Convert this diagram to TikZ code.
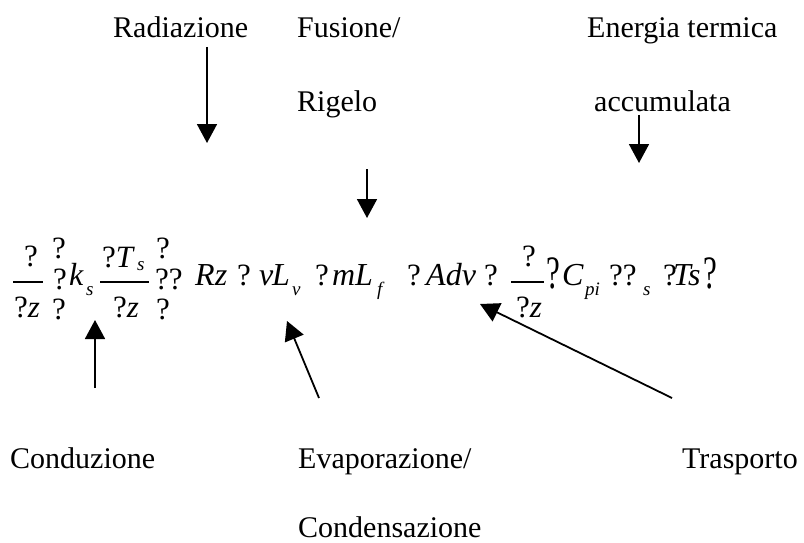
\documentclass[tikz,border=0pt]{standalone}
\usepackage{fontspec}
\setmainfont{Liberation Serif}
\usetikzlibrary{arrows.meta}
\begin{document}
\begin{tikzpicture}[x=1pt,y=-1pt,
  lbl/.style={font=\fontsize{30}{36}\selectfont, inner sep=0pt, anchor=base west},
  eqi/.style={font=\fontsize{32}{38}\selectfont\itshape, inner sep=0pt, anchor=base west},
  eqq/.style={font=\fontsize{31}{37}\selectfont, inner sep=0pt, anchor=base west},
  eqs/.style={font=\fontsize{19}{21}\selectfont\itshape, inner sep=0pt, anchor=base west},
  tallq/.style={font=\fontsize{31}{37}\selectfont, inner sep=0pt, anchor=base west, yscale=1.5},
  fbar/.style={line width=1.5pt},
  arr/.style={line width=1.8pt, -{Triangle[width=20pt,length=19pt]}}]
\useasboundingbox (0,0) rectangle (804,543);
% labels
\node[lbl] (rad) at (113,38) {Radiazione};
\node[lbl] (fus) at (297,38) {Fusione/};
\node[lbl] (rig) at (297,112) {Rigelo};
\node[lbl] (ene) at (587,38) {Energia termica};
\node[lbl] (acc) at (594,112) {accumulata};
\node[lbl] (con) at (10,468) {Conduzione};
\node[lbl] (eva) at (298,468) {Evaporazione/};
\node[lbl] (cnd) at (298,537) {Condensazione};
\node[lbl] (tra) at (682,468) {Trasporto};
% equation: first fraction
\node[eqq] (n1) at (24,266) {?};
\draw[fbar] (13,282) -- (43,282);
\node[eqq] (d1) at (14,317) {?\textit{z}};
\node[eqq] (p1a) at (52,258) {?};
\node[eqq] (p1b) at (53,289) {?};
\node[eqq] (p1c) at (52,319) {?};
\node[eqi] (k) at (69,285) {k};
\node[eqs] (ks) at (86,295) {s};
% second fraction
\node[eqq] (n2) at (102,267) {?\textit{T}};
\node[eqs] (n2s) at (137,270) {s};
\draw[fbar] (100,282) -- (149,282);
\node[eqq] (d2) at (113,317) {?\textit{z}};
\node[eqq] (p2a) at (156,258) {?};
\node[eqq] (p2b) at (155,289) {??};
\node[eqq] (p2c) at (156,319) {?};
% middle terms
\node[eqi] (rz) at (195,285) {Rz};
\node[eqq] (q1) at (237,285) {?};
\node[eqi] (v1) at (259,285) {v};
\node[eqi] (l1) at (272,285) {L};
\node[eqs] (vls) at (292,295) {v};
\node[eqq] (q2) at (315,285) {?};
\node[eqi] (m1) at (332,285) {m};
\node[eqi] (l2) at (355,285) {L};
\node[eqs] (mls) at (377,295) {f};
\node[eqq] (q3) at (407,285) {?};
\node[eqi] (adv) at (426,285) {Adv};
\node[eqq] (q4) at (484,285) {?};
% third fraction
\node[eqq] (n3) at (522,266) {?};
\draw[fbar] (511,282) -- (544,282);
\node[eqq] (d3) at (516,317) {?\textit{z}};
\node[tallq] (t1) at (546,288) {?};
\node[eqi] (c) at (562,285) {C};
\node[eqs] (cs) at (585,295) {pi};
\node[eqq] (qq) at (609,285) {??};
\node[eqs] (qqs) at (643,295) {s};
\node[eqq] (q5) at (663,285) {?};
\node[eqi] (ts) at (673,285) {Ts};
\node[tallq] (t2) at (703,288) {?};
% arrow end points
\coordinate (a1s) at (207,47);  \coordinate (a1e) at (207,143);
\coordinate (a2s) at (367,169); \coordinate (a2e) at (367,218);
\coordinate (a3s) at (639,115); \coordinate (a3e) at (639,163);
\coordinate (a4s) at (95,388);  \coordinate (a4e) at (95,320);
\coordinate (a5s) at (319,398); \coordinate (a5e) at (287,321);
\coordinate (a6s) at (672,398); \coordinate (a6e) at (480,304);
\draw[arr] (a1s) -- (a1e);
\draw[arr] (a2s) -- (a2e);
\draw[arr] (a3s) -- (a3e);
\draw[arr] (a4s) -- (a4e);
\draw[arr] (a5s) -- (a5e);
\draw[arr] (a6s) -- (a6e);
\end{tikzpicture}
\end{document}
